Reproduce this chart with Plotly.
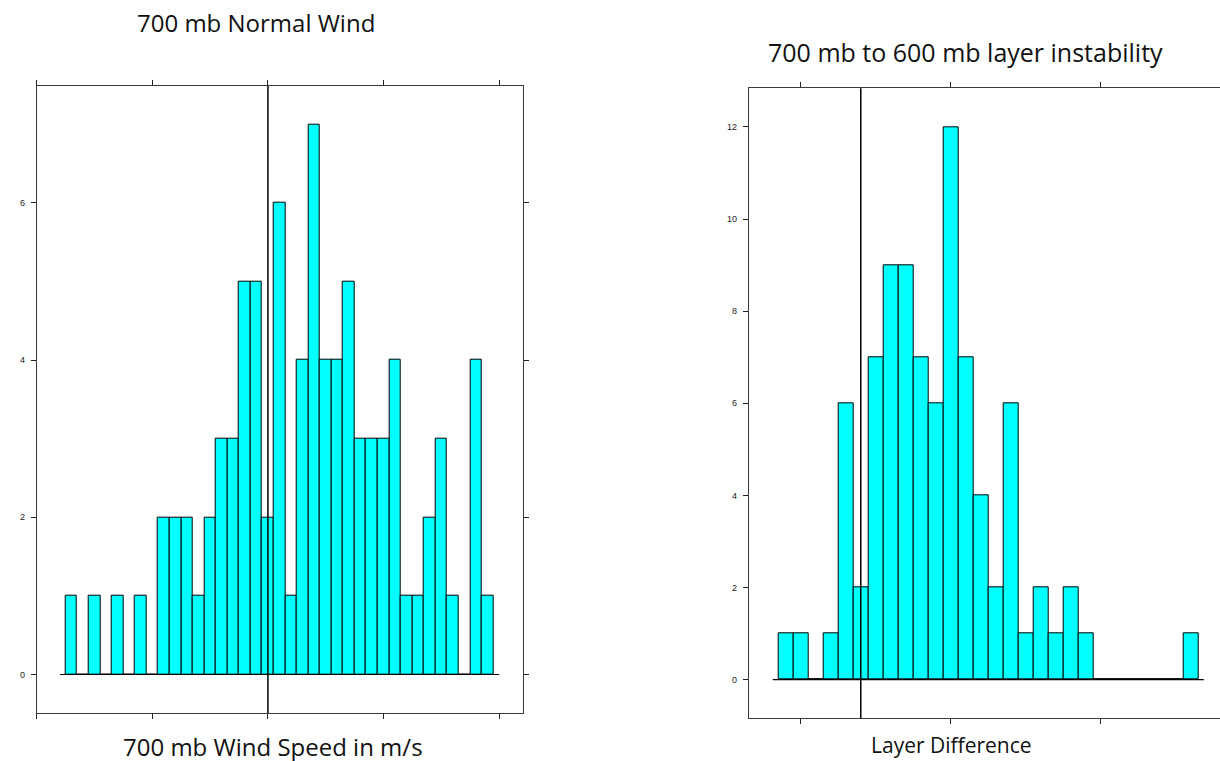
import plotly.graph_objects as go

# ---- data ----
wind_bins = list(range(-17, 20))
wind_counts = [1, 0, 1, 0, 1, 0, 1, 0, 2, 2, 2, 1, 2, 3, 3, 5, 5, 2, 6, 1,
               4, 7, 4, 4, 5, 3, 3, 3, 4, 1, 1, 2, 3, 1, 0, 4, 1]
wind_ref = 0
wind_xticks = [-20, -10, 0, 10, 20]
wind_yticks = [0, 2, 4, 6]

layer_bins = list(range(-1, 27))
layer_counts = [1, 1, 0, 1, 6, 2, 7, 9, 9, 7, 6, 12, 7, 4, 2, 6, 1, 2, 1, 2,
                1, 0, 0, 0, 0, 0, 0, 1]
layer_ref = 4
layer_xticks = [0, 10, 20]
layer_yticks = [0, 2, 4, 6, 8, 10, 12]

left_title = "700 mb Normal Wind"
left_xtitle = "700 mb Wind Speed in m/s"
right_title = "700 mb to 600 mb layer instability"
right_xtitle = "Layer Difference"

W, H = 1220, 761
CYAN = "#00FFFF"
FRAME = "#3a3a3a"
TITLE_FONT = dict(family="Open Sans", size=24, color="#111")
TICK_FONT = dict(family="Liberation Sans", size=9, color="#222")

fig = go.Figure()

def px_x(p):
    return p / W

def px_y(p):
    return 1 - p / H

# left histogram
fig.add_trace(go.Bar(x=wind_bins, y=wind_counts, width=1,
                     marker=dict(color=CYAN, line=dict(color="black", width=1)),
                     xaxis="x", yaxis="y", showlegend=False))
ext_l = 1.0
fig.add_trace(go.Scatter(x=[wind_bins[0] - ext_l, wind_bins[-1] + ext_l], y=[0, 0],
                         mode="lines", line=dict(color="black", width=1.2),
                         xaxis="x", yaxis="y", showlegend=False, hoverinfo="skip"))
# right histogram
fig.add_trace(go.Bar(x=layer_bins, y=layer_counts, width=1,
                     marker=dict(color=CYAN, line=dict(color="black", width=1)),
                     xaxis="x2", yaxis="y2", showlegend=False))
ext_r = 0.87
fig.add_trace(go.Scatter(x=[layer_bins[0] - ext_r, layer_bins[-1] + ext_r], y=[0, 0],
                         mode="lines", line=dict(color="black", width=1.2),
                         xaxis="x2", yaxis="y2", showlegend=False, hoverinfo="skip"))

wmax = max(wind_counts)
lmax = max(layer_counts)
pad = 0.07

common_axis = dict(showgrid=False, zeroline=False, showline=True, linecolor=FRAME,
                   linewidth=1, ticks="outside", ticklen=5, tickcolor="#222",
                   tickwidth=1, tickfont=TICK_FONT)

fig.update_layout(
    width=W, height=H,
    margin=dict(l=0, r=0, t=0, b=0),
    paper_bgcolor="white", plot_bgcolor="white",
    bargap=0,
    xaxis=dict(domain=[px_x(36.7), px_x(522.7)], range=[-20, 22.04],
               tickvals=wind_xticks, showticklabels=False, mirror="allticks",
               anchor="y", **common_axis),
    yaxis=dict(domain=[px_y(713), px_y(85.7)], range=[-pad * wmax, wmax * (1 + pad)],
               tickvals=wind_yticks, mirror="allticks", anchor="x", ticklabelstandoff=4,
               **common_axis),
    xaxis2=dict(domain=[px_x(748.7), 1.0], range=[-3.47, 27.95],
                tickvals=layer_xticks, showticklabels=False, mirror="allticks",
                anchor="y2", **common_axis),
    yaxis2=dict(domain=[px_y(718.3), px_y(88.3)], range=[-pad * lmax, lmax * (1 + pad)],
                tickvals=layer_yticks, mirror=False, anchor="x2", ticklabelstandoff=4,
                **common_axis),
    shapes=[
        dict(type="line", xref="x", yref="y domain", x0=wind_ref, x1=wind_ref, y0=0, y1=1,
             line=dict(color="black", width=1.5), layer="above"),
        dict(type="line", xref="x2", yref="y2 domain", x0=layer_ref, x1=layer_ref, y0=0, y1=1,
             line=dict(color="black", width=1.5), layer="above"),
    ],
    annotations=[
        dict(text=left_title, xref="paper", yref="paper", x=px_x(256), y=px_y(22),
             xanchor="center", yanchor="middle", showarrow=False, font=TITLE_FONT),
        dict(text=left_xtitle, xref="paper", yref="paper", x=px_x(273), y=px_y(746),
             xanchor="center", yanchor="middle", showarrow=False, font=TITLE_FONT),
        dict(text=right_title, xref="paper", yref="paper", x=px_x(965), y=px_y(52),
             xanchor="center", yanchor="middle", showarrow=False,
             font=dict(TITLE_FONT, size=25)),
        dict(text=right_xtitle, xref="paper", yref="paper", x=px_x(951), y=px_y(745),
             xanchor="center", yanchor="middle", showarrow=False,
             font=dict(TITLE_FONT, size=21)),
    ],
)

fig.write_html("out.html", config={"displayModeBar": False},
               post_script="document.body.style.margin='0';")
